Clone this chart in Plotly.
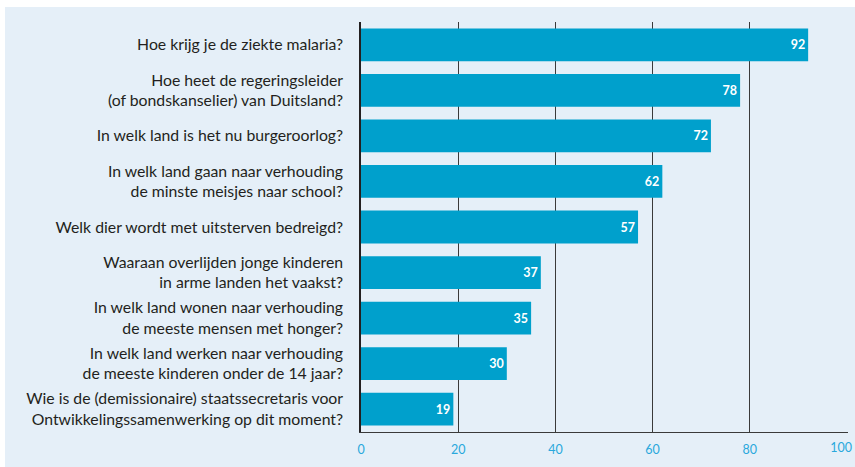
import plotly.graph_objects as go

questions = [
    "Hoe krijg je de ziekte malaria?",
    "Hoe heet de regeringsleider<br>(of bondskanselier) van Duitsland?",
    "In welk land is het nu burgeroorlog?",
    "In welk land gaan naar verhouding<br>de minste meisjes naar school?",
    "Welk dier wordt met uitsterven bedreigd?",
    "Waaraan overlijden jonge kinderen<br>in arme landen het vaakst?",
    "In welk land wonen naar verhouding<br>de meeste mensen met honger?",
    "In welk land werken naar verhouding<br>de meeste kinderen onder de 14 jaar?",
    "Wie is de (demissionaire) staatssecretaris voor<br>Ontwikkelingssamenwerking op dit moment?",
]
values = [92, 78, 72, 62, 57, 37, 35, 30, 19]
tick_vals = [0, 20, 40, 60, 80, 100]
tick_labels = [str(t) for t in tick_vals]

BG = "#e5eff8"
BAR = "#00a0cc"
TICK_BLUE = "#29a8dc"
GRID = "#3a3a3a"
FONT = "Lato, 'Open Sans', sans-serif"
X_RANGE = [0, 100.2]

fig = go.Figure()
fig.add_trace(
    go.Bar(
        x=values,
        y=questions,
        orientation="h",
        marker=dict(color=BAR, line=dict(width=0)),
        text=[str(v) for v in values],
        textposition="inside",
        insidetextanchor="end",
        textfont=dict(color="white", size=12.5, family="Lato, sans-serif", weight="bold"),
        cliponaxis=False,
        hoverinfo="x+y",
    )
)
# empty helper trace so the secondary x axis (last tick label only) is drawn
fig.add_trace(
    go.Scatter(
        x=[], y=[], xaxis="x2", yaxis="y", mode="none",
        hoverinfo="skip", showlegend=False,
    )
)

fig.update_layout(
    width=855,
    height=467,
    margin=dict(l=361, r=7, t=22, b=35, autoexpand=False),
    paper_bgcolor="white",
    plot_bgcolor=BG,
    bargap=0.28,
    showlegend=False,
    font=dict(family=FONT, color="#231f20", size=15.8),
    shapes=[
        dict(
            type="rect", xref="paper", yref="paper", layer="below",
            x0=(5 - 361) / 487, x1=1.05,
            y0=-0.12, y1=1 + 15 / 410,
            fillcolor=BG, line=dict(width=0),
        )
    ],
    xaxis=dict(
        range=X_RANGE,
        tickvals=tick_vals[:-1],
        ticktext=tick_labels[:-1],
        showgrid=True,
        gridcolor=GRID,
        gridwidth=1.2,
        zeroline=False,
        showline=True,
        linecolor=GRID,
        linewidth=1.2,
        tickfont=dict(color=TICK_BLUE, size=12.5, family=FONT),
        ticks="",
        ticklabelstandoff=6,
        automargin=False,
        fixedrange=True,
    ),
    xaxis2=dict(
        overlaying="x",
        anchor="y",
        side="bottom",
        range=X_RANGE,
        tickvals=tick_vals[-1:],
        ticktext=tick_labels[-1:],
        ticklabelposition="outside left",
        ticklabelshift=5,
        ticklabelstandoff=6,
        tickfont=dict(color=TICK_BLUE, size=12.5, family=FONT),
        showgrid=True,
        gridcolor=GRID,
        gridwidth=1.2,
        showline=False,
        zeroline=False,
        ticks="",
        automargin=False,
        fixedrange=True,
    ),
    yaxis=dict(
        autorange="reversed",
        showline=True,
        linecolor="#231f20",
        linewidth=1.5,
        showgrid=False,
        ticks="",
        ticklabelstandoff=13,
        tickfont=dict(size=15.8, color="#231f20", family=FONT),
        automargin=False,
        fixedrange=True,
    ),
)

fig.write_html(
    "out.html",
    config={"displayModeBar": False},
    post_script="document.body.style.margin='0';document.body.style.overflow='hidden';",
)
